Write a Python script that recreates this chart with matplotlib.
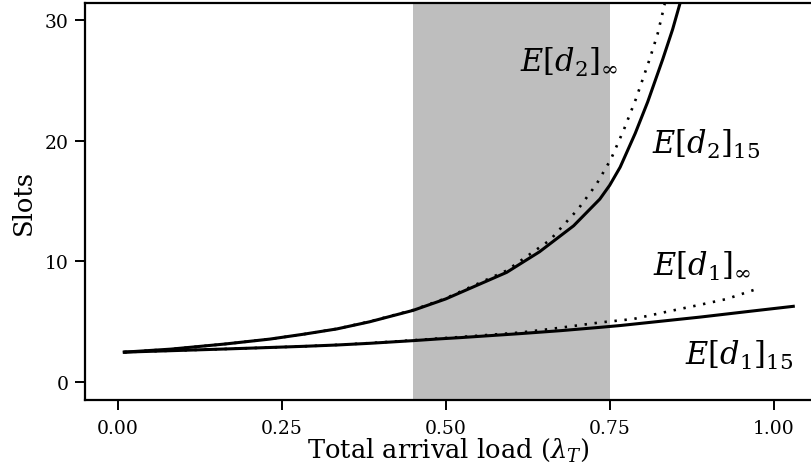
import matplotlib.pyplot as plt

plt.rcParams['font.family'] = 'DejaVu Serif'
plt.rcParams['mathtext.fontset'] = 'dejavuserif'

# values
x_d1_15 = [0.01, 0.081, 0.163, 0.24, 0.283, 0.334, 0.384, 0.45, 0.491, 0.522,
           0.613, 0.676, 0.735, 0.766, 0.888, 0.964, 1.03]
y_d1_15 = [2.5, 2.62, 2.76, 2.9, 2.98, 3.09, 3.23, 3.45, 3.6, 3.7,
           4.03, 4.28, 4.55, 4.7, 5.4, 5.88, 6.29]

x_d1_inf = [0.01, 0.081, 0.163, 0.24, 0.283, 0.334, 0.384, 0.45, 0.491, 0.522,
            0.613, 0.659, 0.736, 0.786, 0.837, 0.888, 0.928, 0.977]
y_d1_inf = [2.5, 2.62, 2.76, 2.9, 2.98, 3.10, 3.25, 3.48, 3.64, 3.75,
            4.12, 4.41, 4.96, 5.24, 5.84, 6.42, 6.89, 7.77]

x_d2_15 = [0.01, 0.081, 0.163, 0.232, 0.283, 0.334, 0.384, 0.45, 0.50,
           0.593, 0.643, 0.695, 0.735, 0.75, 0.766, 0.789, 0.808, 0.831, 0.846, 0.857]
y_d2_15 = [2.5, 2.75, 3.17, 3.58, 3.98, 4.42, 5.01, 5.95, 6.9,
           9.1, 10.8, 12.95, 15.16, 16.3, 17.8, 20.6, 23.2, 26.74, 29.2, 31.3]

x_d2_inf = [0.01, 0.081, 0.163, 0.232, 0.283, 0.334, 0.384, 0.45, 0.50,
            0.593, 0.659, 0.702, 0.730, 0.752, 0.772, 0.790, 0.811, 0.823, 0.834]
y_d2_inf = [2.5, 2.75, 3.17, 3.58, 3.98, 4.43, 5.03, 5.98, 6.95,
            9.25, 11.77, 14.34, 16.4, 18.47, 20.95, 23.44, 26.74, 28.8, 31.3]

shade = (0.45, 0.75)

fig = plt.figure(figsize=(8.11, 4.77), dpi=100)
ax = fig.add_axes([0.1048, 0.1593, 0.8952, 0.8323])

ax.axvspan(shade[0], shade[1], color='#BEBEBE', lw=0, zorder=0)

dots = (0, (0.9, 2.9))
ax.plot(x_d2_inf, y_d2_inf, color='black', lw=1.9, ls=dots)
ax.plot(x_d1_inf, y_d1_inf, color='black', lw=1.9, ls=dots)
ax.plot(x_d2_15, y_d2_15, color='black', lw=2.2, solid_joinstyle='round')
ax.plot(x_d1_15, y_d1_15, color='black', lw=2.2, solid_joinstyle='round')

ax.text(0.613, 25.75, r'$E[d_2]_\infty$', fontsize=22)
ax.text(0.815, 18.97, r'$E[d_2]_{15}$', fontsize=22)
ax.text(0.816, 8.87, r'$E[d_1]_\infty$', fontsize=22)
ax.text(0.865, 1.51, r'$E[d_1]_{15}$', fontsize=22)

ax.set_xlim(-0.05, 1.057)
ax.set_ylim(-1.46, 31.38)
ax.set_xticks([0.0, 0.25, 0.5, 0.75, 1.0])
ax.set_xticklabels(['0.00', '0.25', '0.50', '0.75', '1.00'])
ax.set_yticks([0, 10, 20, 30])

ax.spines['right'].set_visible(False)
for s in ['left', 'bottom', 'top']:
    ax.spines[s].set_linewidth(1.6)
ax.tick_params(width=1.4, length=7, labelsize=13.5, pad=5)
ax.tick_params(axis='x', pad=7)

ax.set_xlabel(r'Total arrival load ($\lambda_T$)', fontsize=18.5, labelpad=-1)
ax.set_ylabel('Slots', fontsize=18.5, labelpad=6)

fig.savefig('out.png', dpi=100)
